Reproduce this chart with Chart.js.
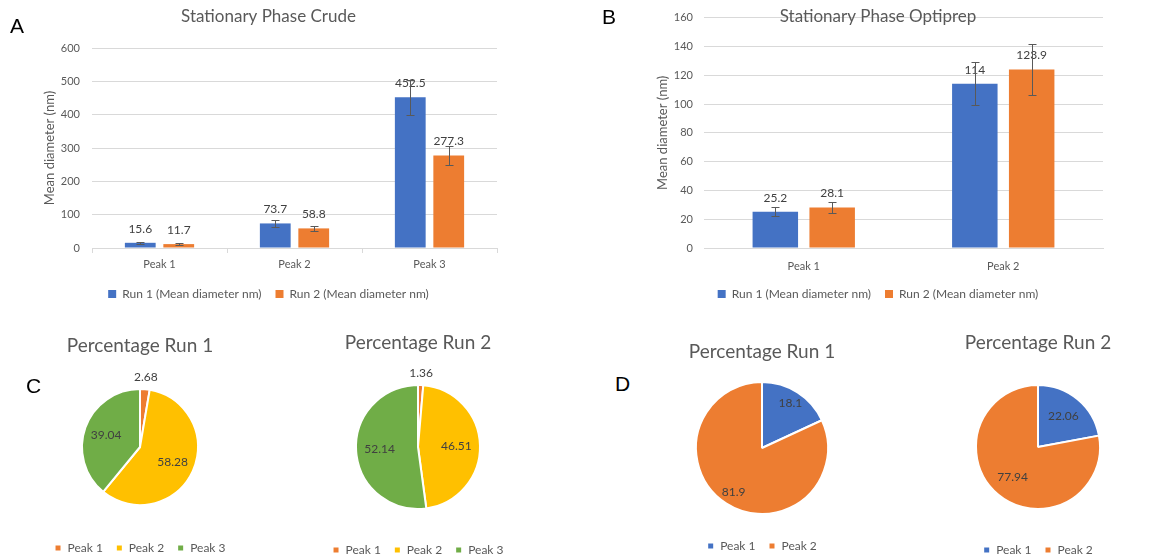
<!DOCTYPE html>
<html>
<head>
<meta charset="utf-8">
<script src="https://cdn.jsdelivr.net/npm/chart.js@4.4.1/dist/chart.umd.min.js"></script>
<style>
  html, body { margin: 0; padding: 0; background: #fff; overflow: hidden; }
  #quadro { position: relative; width: 1162px; height: 560px; overflow: hidden; }
  canvas { position: absolute; }
  .letra { position: absolute; font-family: "Liberation Sans", Arial, sans-serif; font-size: 21px; line-height: 1; color: #000; }
</style>
</head>
<body>
<div id="quadro">
  <canvas id="barCrude" width="520" height="310" style="left:0;top:0"></canvas>
  <canvas id="barOpti" width="540" height="310" style="left:580px;top:0"></canvas>
  <canvas id="pieCrude1" width="280" height="246" style="left:0;top:320px"></canvas>
  <canvas id="pieCrude2" width="272" height="246" style="left:282px;top:320px"></canvas>
  <canvas id="pieOpti1" width="244" height="246" style="left:640px;top:320px"></canvas>
  <canvas id="pieOpti2" width="248" height="246" style="left:914px;top:320px"></canvas>
  <div class="letra" style="left:10px;top:15px">A</div>
  <div class="letra" style="left:602px;top:6px">B</div>
  <div class="letra" style="left:26px;top:375px">C</div>
  <div class="letra" style="left:615px;top:373px">D</div>
</div>
<script>
// dados - painel A (crude)
const picosCrude = ['Peak 1', 'Peak 2', 'Peak 3'];
const crudeRun1 = [15.6, 73.7, 452.5];
const crudeRun2 = [11.7, 58.8, 277.3];
const crudeErr1 = [2.5, 10, 53];
const crudeErr2 = [2, 6.5, 29];
const crudeTicks = [0, 100, 200, 300, 400, 500, 600];

// painel B (optiprep)
const picosOpti = ['Peak 1', 'Peak 2'];
const optiRun1 = [25.2, 114];
const optiRun2 = [28.1, 123.9];
const optiErr1 = [3, 15];
const optiErr2 = [3.7, 17.5];
const optiTicks = [0, 20, 40, 60, 80, 100, 120, 140, 160];

// paineis C e D (percentuais)
const crudePctRun1 = [2.68, 58.28, 39.04];
const crudePctRun2 = [1.36, 46.51, 52.14];
const optiPctRun1 = [18.1, 81.9];
const optiPctRun2 = [22.06, 77.94];

const serieNomes = ['Run 1 (Mean diameter nm)', 'Run 2 (Mean diameter nm)'];

const AZUL = '#4472C4', LARANJA = '#ED7D31', AMARELO = '#FFC000', VERDE = '#70AD47';
const GRADE = '#D9D9D9';

Chart.defaults.font.family = 'Lato, "Open Sans", sans-serif';
Chart.defaults.color = '#595959';
Chart.defaults.animation = false;

// valor em cima de cada barra
const rotulosBarra = {
  id: 'rotulosBarra',
  afterDatasetsDraw(chart) {
    const ctx = chart.ctx;
    ctx.save();
    ctx.font = '12px Lato';
    ctx.fillStyle = '#404040';
    ctx.textAlign = 'center';
    ctx.textBaseline = 'middle';
    chart.data.datasets.forEach((ds, i) => {
      chart.getDatasetMeta(i).data.forEach((el, j) => {
        ctx.fillText(ds.data[j], el.x, el.y - 14);
      });
    });
    ctx.restore();
  }
};

// barras de erro
const barrasErro = {
  id: 'barrasErro',
  afterDatasetsDraw(chart) {
    const ctx = chart.ctx;
    const y = chart.scales.y;
    ctx.save();
    ctx.strokeStyle = '#595959';
    ctx.lineWidth = 1;
    chart.data.datasets.forEach((ds, i) => {
      chart.getDatasetMeta(i).data.forEach((el, j) => {
        const e = ds.erros[j];
        const topo = Math.round(y.getPixelForValue(ds.data[j] + e)) + 0.5;
        const base = Math.round(y.getPixelForValue(ds.data[j] - e)) + 0.5;
        const x = Math.round(el.x) + 0.5;
        ctx.beginPath();
        ctx.moveTo(x, topo); ctx.lineTo(x, base);
        ctx.moveTo(x - 4, topo); ctx.lineTo(x + 4, topo);
        ctx.moveTo(x - 4, base); ctx.lineTo(x + 4, base);
        ctx.stroke();
      });
    });
    ctx.restore();
  }
};

// titulo por cima da area do grafico (painel B)
const tituloSobreposto = {
  id: 'tituloSobreposto',
  afterDraw(chart, args, opts) {
    if (!opts.texto) return;
    const ctx = chart.ctx;
    ctx.save();
    ctx.font = '17px Lato';
    ctx.fillStyle = '#595959';
    ctx.textAlign = 'center';
    ctx.textBaseline = 'middle';
    ctx.fillText(opts.texto, (chart.legend.left + chart.legend.right) / 2, opts.y);
    ctx.restore();
  }
};

// valores nas fatias
const rotulosPizza = {
  id: 'rotulosPizza',
  afterDatasetsDraw(chart, args, opts) {
    const ctx = chart.ctx;
    const ds = chart.data.datasets[0];
    ctx.save();
    ctx.font = '12px Lato';
    ctx.fillStyle = '#404040';
    ctx.textAlign = 'center';
    ctx.textBaseline = 'middle';
    chart.getDatasetMeta(0).data.forEach((arc, j) => {
      const meio = (arc.startAngle + arc.endAngle) / 2;
      const r = ds.data[j] < 5 ? arc.outerRadius + 12 : arc.outerRadius * opts.frac;
      ctx.fillText(ds.data[j], arc.x + Math.cos(meio) * r, arc.y + Math.sin(meio) * r);
    });
    ctx.restore();
  }
};

function criarBarras(id, cats, run1, run2, err1, err2, ticks, op) {
  new Chart(document.getElementById(id), {
    type: 'bar',
    data: {
      labels: cats,
      datasets: [
        { label: serieNomes[0], data: run1, erros: err1, backgroundColor: AZUL, categoryPercentage: 0.57, barPercentage: 0.8 },
        { label: serieNomes[1], data: run2, erros: err2, backgroundColor: LARANJA, categoryPercentage: 0.57, barPercentage: 0.8 }
      ]
    },
    options: {
      responsive: false,
      layout: { padding: op.padding },
      plugins: {
        title: {
          display: !!op.titulo,
          text: op.titulo,
          font: { size: 17, weight: 'normal' },
          padding: { top: 6.8, bottom: 20.8 }
        },
        tituloSobreposto: { texto: op.tituloSobre, y: 17 },
        legend: {
          position: 'bottom',
          labels: { boxWidth: 8, boxHeight: 8, padding: 14, font: { size: 12 } }
        },
        tooltip: { enabled: false }
      },
      scales: {
        x: {
          grid: { display: true, drawOnChartArea: false, drawTicks: true, tickLength: 5, color: op.marcasX ? GRADE : 'rgba(0,0,0,0)' },
          border: { display: true, color: GRADE },
          ticks: { font: { size: 11 }, padding: op.marcasX ? 5 : 7 },
          afterFit: s => { s.height = 26; }
        },
        y: {
          min: ticks[0],
          max: ticks[ticks.length - 1],
          ticks: { stepSize: ticks[1] - ticks[0], font: { size: 11 }, padding: op.yPad },
          grid: { color: GRADE, drawTicks: false },
          border: { display: false },
          title: { display: true, text: 'Mean diameter (nm)', font: { size: 13 }, padding: { top: 2.2, bottom: 0 } },
          afterFit: s => { s.width = op.yLarg; }
        }
      }
    },
    plugins: [rotulosBarra, barrasErro, tituloSobreposto]
  });
}

function criarPizza(id, cats, valores, cores, op) {
  new Chart(document.getElementById(id), {
    type: 'pie',
    data: {
      labels: cats,
      datasets: [{ data: valores, backgroundColor: cores, borderColor: '#fff', borderWidth: 2 }]
    },
    options: {
      responsive: false,
      radius: op.raio,
      layout: { padding: { bottom: op.padBaixo } },
      plugins: {
        title: {
          display: true,
          text: op.titulo,
          font: { size: 19, weight: 'normal' },
          padding: { top: op.tTop, bottom: op.tBottom }
        },
        legend: {
          position: 'bottom',
          labels: { boxWidth: 7, boxHeight: 7, padding: 13, font: { size: 12 } }
        },
        rotulosPizza: { frac: op.frac },
        tooltip: { enabled: false }
      }
    },
    plugins: [rotulosPizza]
  });
}

function montar() {
  criarBarras('barCrude', picosCrude, crudeRun1, crudeRun2, crudeErr1, crudeErr2, crudeTicks, {
    titulo: 'Stationary Phase Crude',
    padding: { left: 40, right: 23, top: 0, bottom: 0 },
    yLarg: 52, yPad: 12, marcasX: true
  });
  criarBarras('barOpti', picosOpti, optiRun1, optiRun2, optiErr1, optiErr2, optiTicks, {
    tituloSobre: 'Stationary Phase Optiprep',
    padding: { left: 73, right: 17, top: 9, bottom: 0 },
    yLarg: 51, yPad: 11, marcasX: false
  });

  criarPizza('pieCrude1', picosCrude, crudePctRun1, [LARANJA, AMARELO, VERDE], {
    titulo: 'Percentage Run 1', raio: 58, tTop: 14.6, tBottom: 7.6, padBaixo: 2, frac: 0.62
  });
  criarPizza('pieCrude2', picosCrude, crudePctRun2, [LARANJA, AMARELO, VERDE], {
    titulo: 'Percentage Run 2', raio: 62, tTop: 11.6, tBottom: 8.6, padBaixo: 0, frac: 0.62
  });
  criarPizza('pieOpti1', picosOpti, optiPctRun1, [AZUL, LARANJA], {
    titulo: 'Percentage Run 1', raio: 66, tTop: 20.6, tBottom: 5.6, padBaixo: 4, frac: 0.8
  });
  criarPizza('pieOpti2', picosOpti, optiPctRun2, [AZUL, LARANJA], {
    titulo: 'Percentage Run 2', raio: 62, tTop: 11.6, tBottom: 8.6, padBaixo: 0, frac: 0.64
  });
}

window.addEventListener('load', montar);
</script>
</body>
</html>
